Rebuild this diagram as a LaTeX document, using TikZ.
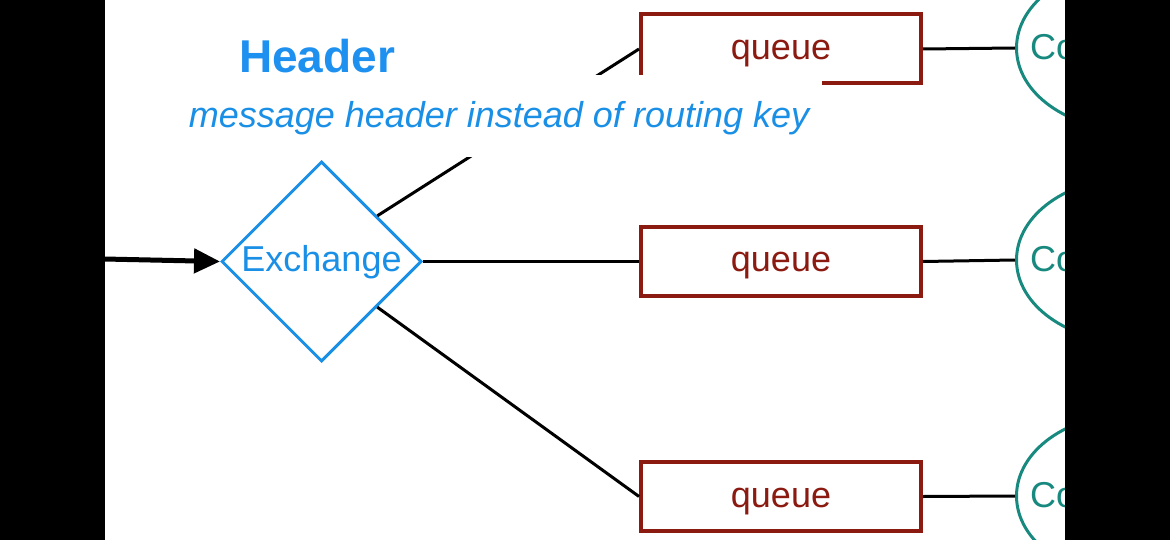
\documentclass[tikz,border=0pt]{standalone}
\usepackage{fontspec}
\setmainfont{Liberation Sans}
\usetikzlibrary{shapes.geometric,arrows.meta,calc}
\definecolor{exblue}{HTML}{1A8FE6}
\definecolor{hdblue}{HTML}{1E90F0}
\definecolor{qred}{HTML}{8B1A10}
\definecolor{cteal}{HTML}{17897F}
\tikzset{
  exbox/.style={diamond, draw=exblue, line width=3pt, inner sep=0pt,
    minimum width=200pt, minimum height=200pt, text=exblue,
    text height=20pt, text depth=0pt,
    font=\fontsize{36}{40}\selectfont},
  qbox/.style={rectangle, draw=qred, line width=4pt, inner sep=0pt,
    minimum width=280pt, minimum height=69pt, text=qred,
    text height=21pt, text depth=0pt,
    font=\fontsize{36}{40}\selectfont},
  cons/.style={ellipse, draw=cteal, line width=3pt, inner sep=0pt,
    minimum width=230pt, minimum height=164pt},
  constext/.style={anchor=base west, inner sep=0pt, text=cteal,
    font=\fontsize{36}{40}\selectfont},
  link/.style={line width=3pt, black},
  inlink/.style={line width=5pt, black, -{Triangle[length=26pt,width=24pt]}},
}
\begin{document}
\begin{tikzpicture}[x=1pt,y=-1pt]
\useasboundingbox (0,0) rectangle (1170,540);
\fill[white] (0,0) rectangle (1170,540);
% nodes
\node[exbox] (ex) at (321.5,261.5) {Exchange};
\node[qbox] (q1) at (781,49) {queue};
\node[qbox] (q2) at (781,261.5) {queue};
\node[qbox] (q3) at (781,496.5) {queue};
\node[cons] (c1) at (1131.5,48) {};
\node[cons] (c2) at (1131.5,260) {};
\node[cons] (c3) at (1131.5,496) {};
\node[constext] (t1) at (1030,60) {Consumer};
\node[constext] (t2) at (1030,271) {Consumer};
\node[constext] (t3) at (1030,507) {Consumer};
% connectors
\coordinate (ein) at (104,259);
\coordinate (eu) at ($(ex.north)!0.55!(ex.east)$);
\coordinate (ed) at ($(ex.south)!0.55!(ex.east)$);
\draw[link] (eu) -- (q1.west);
\draw[link] (ex.east) -- (q2.west);
\draw[link] (ed) -- (q3.west);
\draw[link] (q1.east) -- (c1.west);
\draw[link] (q2.east) -- (c2.west);
\draw[link] (q3.east) -- (c3.west);
\draw[inlink] (ein) -- (ex.west);
% title overlay
\fill[white] (175,75) rectangle (822,157);
\node[anchor=base, text=hdblue, font=\fontsize{46}{50}\selectfont\bfseries] (title) at (317,73) {Header};
\node[anchor=base, text=exblue, font=\fontsize{36}{40}\selectfont\itshape] (sub) at (499,128) {message header instead of routing key};
% black side bars
\fill[black] (0,0) rectangle (105,540);
\fill[black] (1065,0) rectangle (1170,540);
\end{tikzpicture}
\end{document}
